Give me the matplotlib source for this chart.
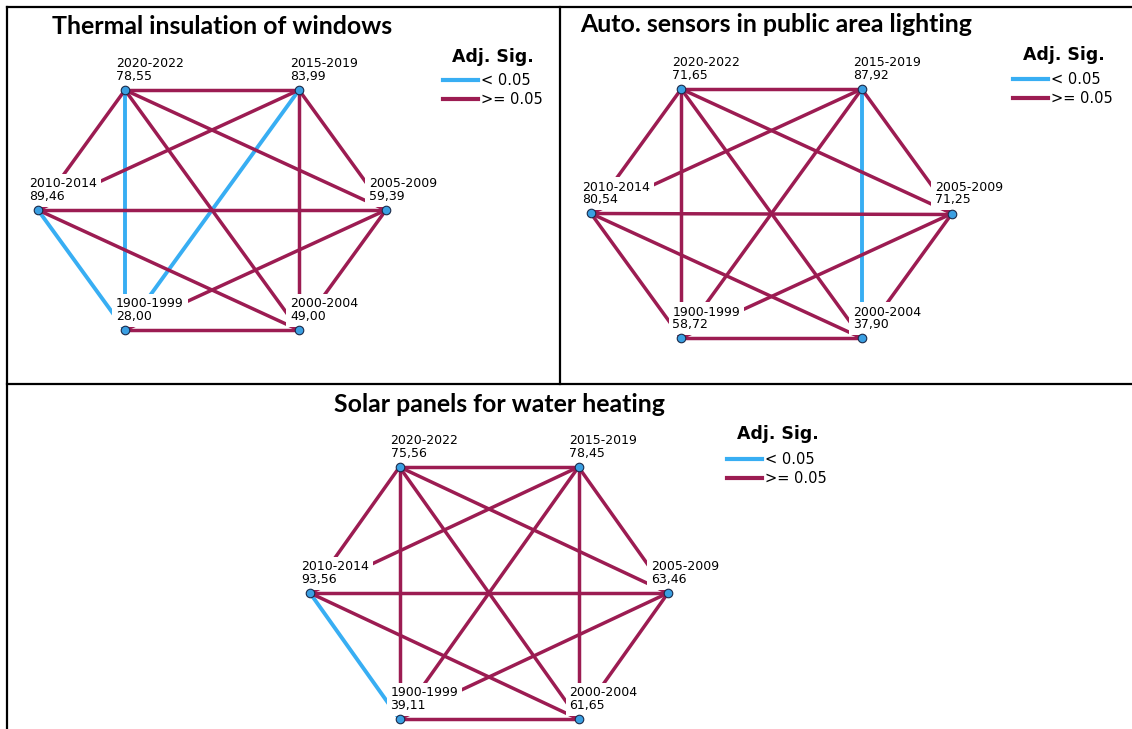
import numpy as np
import matplotlib.pyplot as plt
from matplotlib.lines import Line2D

# pairwise comparison graphs (mean ranks by construction period)
groups = ['2020-2022', '2015-2019', '2005-2009', '2000-2004', '1900-1999', '2010-2014']

titles = ['Thermal insulation of windows',
          'Auto. sensors in public area lighting',
          'Solar panels for water heating']

thermal_ranks = [78.55, 83.99, 59.39, 49.00, 28.00, 89.46]
sensors_ranks = [71.65, 87.92, 71.25, 37.90, 58.72, 80.54]
solar_ranks = [75.56, 78.45, 63.46, 61.65, 39.11, 93.56]

# pairs where adj. sig. < 0.05, everything else is >= 0.05
thermal_sig = [('2020-2022', '1900-1999'), ('2015-2019', '1900-1999'),
               ('2010-2014', '1900-1999')]
sensors_sig = [('2015-2019', '2000-2004')]
solar_sig = [('2010-2014', '1900-1999')]

legend_title = 'Adj. Sig.'
legend_labels = ['< 0.05', '>= 0.05']

BLUE = '#38aef3'
MAROON = '#9c1c52'
NODE = '#3a9fe2'

W, H = 1132, 729
PX = 0.72  # points per pixel at dpi 100

# pixel layout: graph box (left, top, right, bottom), title xy,
# legend title centre, legend entries (left, middle y)
panels = [
    dict(box=(38, 90, 386, 330), title=(52, 27), ltitle=(493, 57), legend=(443, 90)),
    dict(box=(591, 89, 952, 338), title=(580, 25), ltitle=(1064, 55), legend=(1013, 89)),
    dict(box=(310, 467, 668, 719), title=(334, 405), ltitle=(778, 434), legend=(727, 469)),
]

fig = plt.figure(figsize=(W / 100, H / 100), dpi=100)

# table borders
border = dict(color='black', lw=1.6, transform=fig.transFigure)
fig.add_artist(Line2D([7 / W, 1], [1 - 7 / H, 1 - 7 / H], **border))
fig.add_artist(Line2D([7 / W, 7 / W], [1 - 7 / H, 0], **border))
fig.add_artist(Line2D([560 / W, 560 / W], [1 - 7 / H, 1 - 384 / H], **border))
fig.add_artist(Line2D([7 / W, 1], [1 - 384 / H, 1 - 384 / H], **border))

angles = np.deg2rad([120, 60, 0, -60, -120, 180])
xs = 0.5 + 0.5 * np.cos(angles)
ys = 0.5 + 0.5 * np.sin(angles) / np.sin(np.pi / 3)
pos = dict(zip(groups, zip(xs, ys)))

all_ranks = [thermal_ranks, sensors_ranks, solar_ranks]
all_sig = [thermal_sig, sensors_sig, solar_sig]

for p, title, ranks, sig_pairs in zip(panels, titles, all_ranks, all_sig):
    l, t, r, b = p['box']
    ax = fig.add_axes([l / W, 1 - b / H, (r - l) / W, (b - t) / H])
    ax.set_xlim(0, 1)
    ax.set_ylim(0, 1)
    ax.axis('off')

    for i in range(len(groups)):
        for j in range(i + 1, len(groups)):
            a, c = groups[i], groups[j]
            sig = (a, c) in sig_pairs or (c, a) in sig_pairs
            ax.plot([pos[a][0], pos[c][0]], [pos[a][1], pos[c][1]],
                    color=BLUE if sig else MAROON, lw=2.8 if sig else 2.5,
                    zorder=1 if sig else 2, solid_capstyle='butt', clip_on=False)

    for g, rk in zip(groups, ranks):
        dx = -17 if g == '2005-2009' else -9
        txt = f"{g}\n{rk:.2f}".replace('.', ',')
        ax.annotate(txt, pos[g], xytext=(dx * PX, 7 * PX), textcoords='offset points',
                    ha='left', va='bottom', fontsize=9, linespacing=0.95,
                    bbox=dict(boxstyle='square,pad=0.3', fc='white', ec='none'),
                    zorder=3, annotation_clip=False)

    ax.scatter(xs, ys, s=38, c=NODE, edgecolors='#1b2a4a', linewidths=0.8,
               zorder=4, clip_on=False)

    tx, ty = p['title']
    fig.text(tx / W, 1 - ty / H, title, family='Lato', weight='bold',
             fontsize=17.9, ha='left', va='center')

    ltx, lty = p['ltitle']
    fig.text(ltx / W, 1 - lty / H, legend_title, weight='bold', fontsize=12.5,
             ha='center', va='center')

    lx, ly = p['legend']
    handles = [Line2D([], [], color=BLUE, lw=3), Line2D([], [], color=MAROON, lw=3)]
    fig.legend(handles, legend_labels, loc='center left',
               bbox_to_anchor=(lx / W, 1 - ly / H), frameon=False, fontsize=10.5,
               handlelength=2.4, handletextpad=0.2, labelspacing=0.25,
               borderpad=0, borderaxespad=0)

fig.savefig('out.png', dpi=100)
